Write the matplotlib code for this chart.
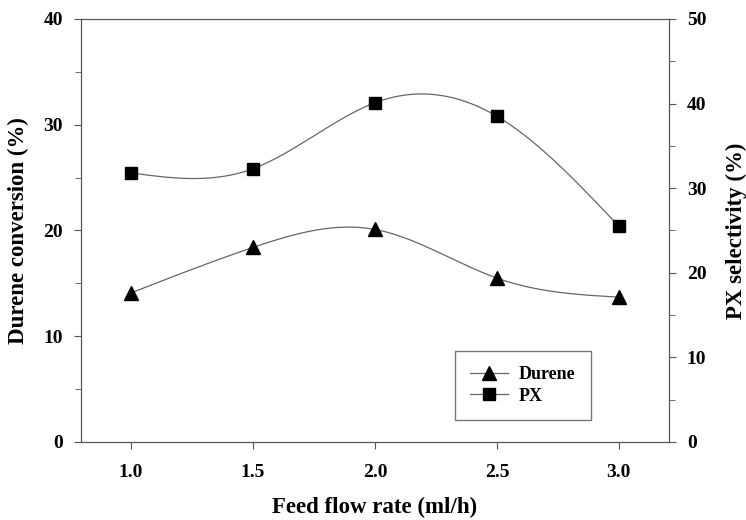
import numpy as np
import matplotlib
matplotlib.use("Agg")
import matplotlib.pyplot as plt

flow = [1.0, 1.5, 2.0, 2.5, 3.0]
durene = [14.1, 18.4, 20.1, 15.5, 13.7]
px_sel = [31.8, 32.3, 40.1, 38.5, 25.5]
x_ticks = [1.0, 1.5, 2.0, 2.5, 3.0]


def spline(x, y, n=200):
    # natural cubic spline, just for drawing the smooth line
    x = np.asarray(x, float)
    y = np.asarray(y, float)
    k = len(x)
    h = np.diff(x)
    A = np.zeros((k, k))
    b = np.zeros(k)
    A[0, 0] = A[-1, -1] = 1
    for i in range(1, k - 1):
        A[i, i - 1] = h[i - 1]
        A[i, i] = 2 * (h[i - 1] + h[i])
        A[i, i + 1] = h[i]
        b[i] = 6 * ((y[i + 1] - y[i]) / h[i] - (y[i] - y[i - 1]) / h[i - 1])
    M = np.linalg.solve(A, b)
    xs = np.linspace(x[0], x[-1], n)
    idx = np.clip(np.searchsorted(x, xs) - 1, 0, k - 2)
    x0, x1 = x[idx], x[idx + 1]
    hh = x1 - x0
    ys = (M[idx] * (x1 - xs) ** 3 / (6 * hh) + M[idx + 1] * (xs - x0) ** 3 / (6 * hh)
          + (y[idx] / hh - M[idx] * hh / 6) * (x1 - xs)
          + (y[idx + 1] / hh - M[idx + 1] * hh / 6) * (xs - x0))
    return xs, ys


plt.rcParams['font.family'] = ['Liberation Serif', 'DejaVu Serif']
plt.rcParams['font.weight'] = 'bold'

fig = plt.figure(figsize=(7.46, 5.2), dpi=100)
ax = fig.add_axes([0.1086, 0.15, 0.788, 0.8135])
ax2 = ax.twinx()

lc = '#666666'
xs, ys = spline(flow, durene)
ax.plot(xs, ys, color=lc, lw=0.9)
ax.plot(flow, durene, ls='none', marker='^', color='black', ms=9.5)
xs, ys = spline(flow, px_sel)
ax2.plot(xs, ys, color=lc, lw=0.9)
ax2.plot(flow, px_sel, ls='none', marker='s', color='black', ms=9)

ax.set_xlim(0.795, 3.205)
ax.set_ylim(0, 40)
ax2.set_ylim(0, 50)
ax.set_xticks(x_ticks)
ax.set_xticklabels(['%.1f' % t for t in x_ticks])
ax.set_yticks([0, 10, 20, 30, 40])
ax.set_yticks([5, 15, 25, 35], minor=True)
ax2.set_yticks([0, 10, 20, 30, 40, 50])
ax2.set_yticks([5, 15, 25, 35, 45], minor=True)

for a in (ax, ax2):
    a.tick_params(which='both', direction='out', labelsize=14, color='#555555')
    a.tick_params(which='major', length=5, pad=8)
    a.tick_params(which='minor', length=4)
    for s in a.spines.values():
        s.set_color('#555555')
ax.tick_params(axis='x', pad=11)

ax.set_xlabel('Feed flow rate (ml/h)', fontsize=16.5, fontweight='bold', labelpad=11)
ax.set_ylabel('Durene conversion (%)', fontsize=16.5, fontweight='bold', labelpad=10)
ax2.set_ylabel('PX selectivity (%)', fontsize=16.5, fontweight='bold', labelpad=14)

h1 = ax.plot([], [], color=lc, lw=0.9, marker='^', mfc='black', mec='black', ms=9.5)[0]
h2 = ax.plot([], [], color=lc, lw=0.9, marker='s', mfc='black', mec='black', ms=9)[0]
leg = ax.legend([h1, h2], ['Durene', 'PX'], loc='lower left',
                bbox_to_anchor=(0.636, 0.052), fancybox=False, fontsize=13,
                handlelength=2.1, borderpad=0.85, labelspacing=0.25, handletextpad=0.6,
                borderaxespad=0)
leg.get_frame().set_edgecolor('#555555')
leg.get_frame().set_linewidth(1.0)

fig.savefig('out.png', dpi=100)
